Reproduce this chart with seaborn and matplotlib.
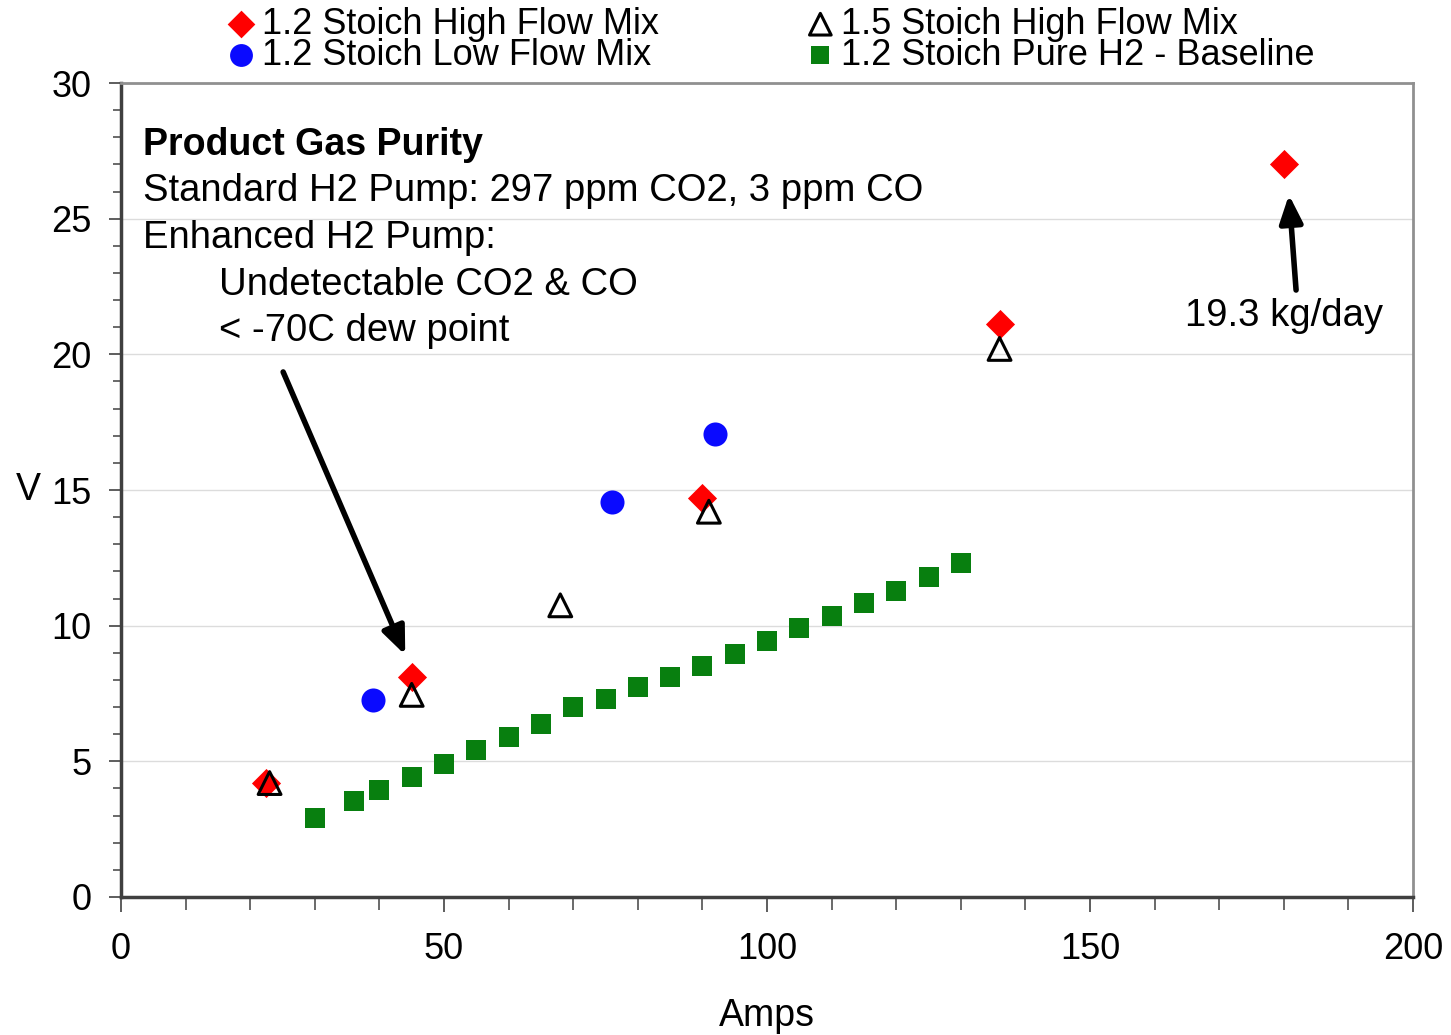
import matplotlib
matplotlib.use("Agg")
import pandas as pd
import seaborn as sns
from matplotlib import pyplot as plt
from matplotlib.ticker import MultipleLocator

# 1.2 stoich high flow mix
high12_amps = [22.5, 45, 90, 136, 180]
high12_volts = [4.2, 8.1, 14.7, 21.1, 27.0]

# 1.2 stoich low flow mix
low12_amps = [39, 76, 92]
low12_volts = [7.25, 14.55, 17.05]

# 1.5 stoich high flow mix
high15_amps = [23, 45, 68, 91, 136]
high15_volts = [4.2, 7.45, 10.75, 14.2, 20.2]

# 1.2 stoich pure H2 baseline
base_amps = [30, 36, 40, 45, 50, 55, 60, 65, 70, 75, 80, 85, 90, 95, 100,
             105, 110, 115, 120, 125, 130]
base_volts = [2.9, 3.55, 3.94, 4.42, 4.9, 5.42, 5.9, 6.38, 7.0, 7.3, 7.74,
              8.11, 8.51, 8.96, 9.44, 9.92, 10.36, 10.84, 11.28, 11.8, 12.31]

sns.set_style("ticks")
plt.rcParams["font.family"] = ["Liberation Sans", "DejaVu Sans"]
plt.rcParams["text.color"] = "black"
plt.rcParams["axes.labelcolor"] = "black"

fig = plt.figure(figsize=(14.51, 10.35), dpi=100)
ax = fig.add_axes([121 / 1451, 1 - 897 / 1035, 1292 / 1451, 814 / 1035])

df_high12 = pd.DataFrame({"Amps": high12_amps, "V": high12_volts})
df_low12 = pd.DataFrame({"Amps": low12_amps, "V": low12_volts})
df_high15 = pd.DataFrame({"Amps": high15_amps, "V": high15_volts})
df_base = pd.DataFrame({"Amps": base_amps, "V": base_volts})

sns.scatterplot(data=df_base, x="Amps", y="V", marker="s", color="#087f0f",
                s=190, linewidth=0, ax=ax, label="1.2 Stoich Pure H2 - Baseline", zorder=3)
sns.scatterplot(data=df_low12, x="Amps", y="V", marker="o", color="#0a0aff",
                s=300, linewidth=0, ax=ax, label="1.2 Stoich Low Flow Mix", zorder=3)
sns.scatterplot(data=df_high12, x="Amps", y="V", marker="D", color="#ff0000",
                s=220, linewidth=0, ax=ax, label="1.2 Stoich High Flow Mix", zorder=4)
sns.scatterplot(data=df_high15, x="Amps", y="V", marker="^", color="black",
                fc="none", ec="black", s=270, linewidth=2.2, ax=ax,
                label="1.5 Stoich High Flow Mix", zorder=5)

ax.set_xlim(0, 200)
ax.set_ylim(0, 30)
ax.xaxis.set_major_locator(MultipleLocator(50))
ax.xaxis.set_minor_locator(MultipleLocator(10))
ax.yaxis.set_major_locator(MultipleLocator(5))
ax.yaxis.set_minor_locator(MultipleLocator(1))
ax.grid(axis="y", which="major", color="#dcdcdc", linewidth=1)
ax.set_axisbelow(True)

ax.tick_params(axis="both", which="both", direction="out", colors="#505050",
               labelcolor="black", labelsize=26)
ax.tick_params(axis="x", which="major", length=11, width=1.3, pad=14)
ax.tick_params(axis="x", which="minor", length=9, width=1.2)
ax.tick_params(axis="y", which="major", length=9, width=1.3, pad=12)
ax.tick_params(axis="y", which="minor", length=6, width=1.2)

for side in ["left", "bottom"]:
    ax.spines[side].set_color("#404040")
    ax.spines[side].set_linewidth(2.5)
for side in ["top", "right"]:
    ax.spines[side].set_color("#909090")
    ax.spines[side].set_linewidth(2)

ax.set_xlabel("Amps", fontsize=27)
ax.set_ylabel("V", fontsize=27, rotation=0, va="center", ha="center")
ax.xaxis.set_label_coords(0.5, -0.124)
ax.yaxis.set_label_coords(-0.072, 0.5)

# annotation block
ax.text(3.4, 27.72, "Product Gas Purity", fontsize=27, fontweight="bold", va="center")
ax.text(3.4, 26.02, "Standard H2 Pump: 297 ppm CO2, 3 ppm CO", fontsize=27.5, va="center")
ax.text(3.4, 24.29, "Enhanced H2 Pump:", fontsize=27.5, va="center")
ax.text(15.2, 22.56, "Undetectable CO2 & CO", fontsize=27.5, va="center")
ax.text(15.2, 20.86, "< -70C dew point", fontsize=27.5, va="center")
ax.text(180, 21.4, "19.3 kg/day", fontsize=27.5, va="center", ha="center")

arrow = dict(arrowstyle="-|>,head_length=0.6,head_width=0.25", color="black",
             lw=4, mutation_scale=28, shrinkA=0, shrinkB=0)
ax.annotate("", xy=(44.0, 8.92), xytext=(25.1, 19.35), arrowprops=arrow)
ax.annotate("", xy=(180.8, 25.88), xytext=(181.9, 22.37), arrowprops=arrow)

# legend across the top, two columns
handles, labels = ax.get_legend_handles_labels()
order = ["1.2 Stoich High Flow Mix", "1.2 Stoich Low Flow Mix",
         "1.5 Stoich High Flow Mix", "1.2 Stoich Pure H2 - Baseline"]
hmap = dict(zip(labels, handles))
ax.get_legend().remove()
fig.legend([hmap[k] for k in order], order, ncol=2, loc="upper left",
           bbox_to_anchor=(213 / 1451, 1.011), frameon=False, fontsize=26,
           handlelength=0.55, handletextpad=0.3, columnspacing=4.2,
           labelspacing=-0.11, borderpad=0, markerscale=0.95)

fig.savefig("out.png", dpi=100)
